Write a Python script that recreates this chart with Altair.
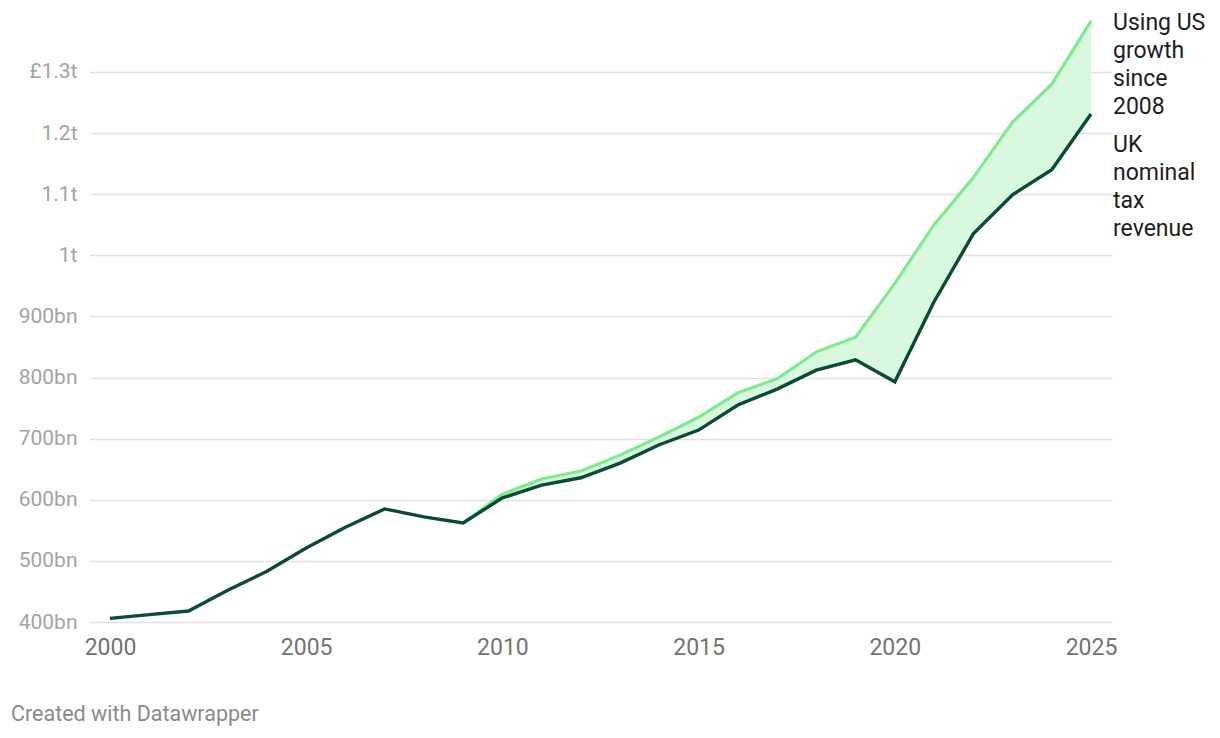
import altair as alt
import pandas as pd

# ---- data ----
years = list(range(2000, 2026))
uk_revenue = [406, 412, 418, 452, 483, 521, 555, 585, 572, 562, 603, 624, 636,
              660, 690, 714, 755, 781, 812, 829, 793, 924, 1035, 1099, 1140, 1231]
us_years = list(range(2009, 2026))
us_growth = [562, 609, 634, 647, 673, 703, 735, 775, 798, 842, 866, 954, 1050,
             1127, 1218, 1280, 1383]

x_ticks = [2000, 2005, 2010, 2015, 2020, 2025]
y_ticks = [400, 500, 600, 700, 800, 900, 1000, 1100, 1200, 1300]
y_tick_labels = ["400bn", "500bn", "600bn", "700bn", "800bn", "900bn",
                 "1t", "1.1t", "1.2t", "£1.3t"]

us_label = ["Using US", "growth", "since", "2008"]
uk_label = ["UK", "nominal", "tax", "revenue"]
footer = "Created with Datawrapper"

# ---- tables ----
df_uk = pd.DataFrame({"year": years, "value": uk_revenue})
df_us = pd.DataFrame({"year": us_years, "value": us_growth})
df_band = pd.DataFrame({"year": us_years, "us": us_growth}).merge(
    df_uk.rename(columns={"value": "uk"}), on="year")
df_us_lab = pd.DataFrame({"year": [years[-1]], "value": [us_growth[-1]], "label": [us_label]})
df_uk_lab = pd.DataFrame({"year": [years[-1]], "value": [uk_revenue[-1]], "label": [uk_label]})
df_foot = pd.DataFrame({"t": [footer]})

label_expr = ("[" + ",".join("'" + s + "'" for s in y_tick_labels) + "]"
              "[indexof([" + ",".join(str(v) for v in y_ticks) + "], datum.value)]")

FONT = "Roboto"
x_scale = alt.Scale(domain=[1999.465, 2025.535], nice=False, zero=False)
y_scale = alt.Scale(domain=[400, 1398], nice=False, zero=False)

x_axis = alt.Axis(values=x_ticks, format="d", title=None, domain=False, ticks=False,
                  grid=False, labelFont=FONT, labelFontSize=23, labelColor="#737373",
                  labelPadding=14, labelFlush=False)
y_axis = alt.Axis(values=y_ticks, labelExpr=label_expr, title=None, domain=False,
                  ticks=False, grid=True, gridColor="#e2e2e2", gridWidth=1.5,
                  labelFont=FONT, labelFontSize=21, labelColor="#a3a3a3",
                  labelPadding=12, labelBaseline="middle")

band = alt.Chart(df_band).mark_area(color="#d8f9dd", opacity=1).encode(
    x=alt.X("year:Q", scale=x_scale, axis=x_axis),
    y=alt.Y("uk:Q", scale=y_scale, axis=y_axis),
    y2="us:Q",
)

us_line = alt.Chart(df_us).mark_line(color="#80ea90", strokeWidth=3.2).encode(
    x=alt.X("year:Q", scale=x_scale, axis=x_axis),
    y=alt.Y("value:Q", scale=y_scale, axis=y_axis),
)

uk_line = alt.Chart(df_uk).mark_line(color="#0b4a34", strokeWidth=3.4).encode(
    x=alt.X("year:Q", scale=x_scale, axis=x_axis),
    y=alt.Y("value:Q", scale=y_scale, axis=y_axis),
)

us_text = alt.Chart(df_us_lab).mark_text(
    align="left", baseline="middle", dx=22, dy=2, font=FONT, fontSize=23,
    lineHeight=28, color="#1d1d1d").encode(
    x=alt.X("year:Q", scale=x_scale, axis=x_axis),
    y=alt.Y("value:Q", scale=y_scale, axis=y_axis),
    text="label",
)

uk_text = alt.Chart(df_uk_lab).mark_text(
    align="left", baseline="middle", dx=22, dy=31, font=FONT, fontSize=23,
    lineHeight=28, color="#1d1d1d").encode(
    x=alt.X("year:Q", scale=x_scale, axis=x_axis),
    y=alt.Y("value:Q", scale=y_scale, axis=y_axis),
    text="label",
)

foot = alt.Chart(df_foot).mark_text(
    align="left", baseline="middle", font=FONT, fontSize=21.5, color="#8a8a8a").encode(
    x=alt.value(-78), y=alt.value(703), text="t:N")

chart = alt.layer(band, us_line, uk_line, us_text, uk_text, foot).properties(
    width=1023, height=610,
    background="white",
    autosize=alt.AutoSizeParams(type="none"),
    padding={"left": 81, "top": 4, "right": 100, "bottom": 108},
).configure_view(strokeWidth=0, stroke="transparent")

chart.save("out.html", embed_options={"renderer": "svg", "actions": False})
